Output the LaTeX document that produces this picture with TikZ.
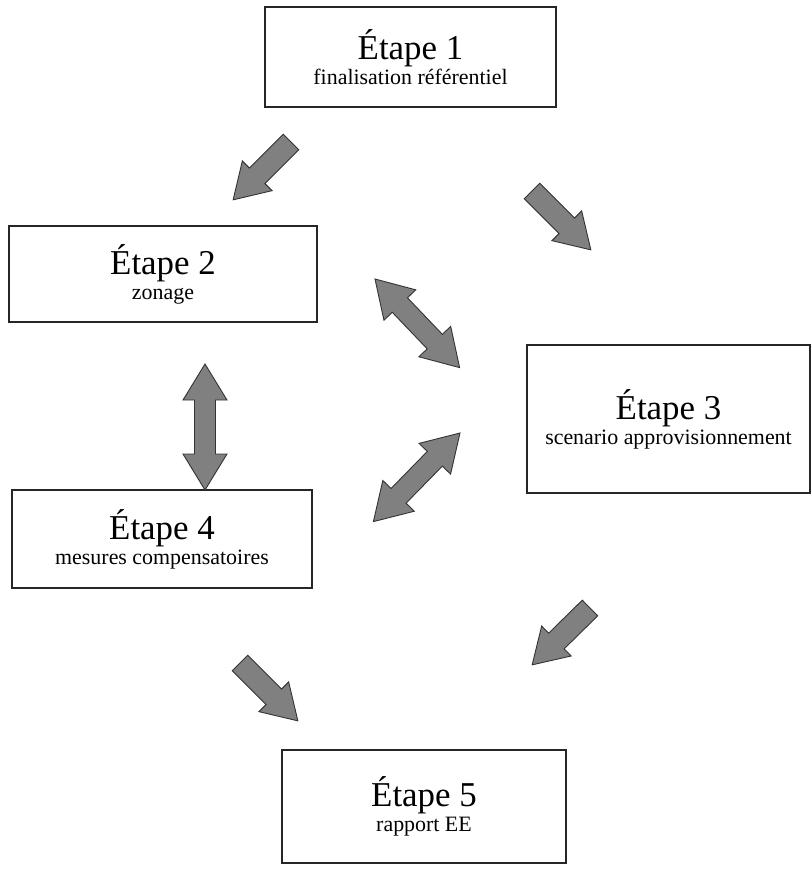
\documentclass[tikz,border=0pt]{standalone}
\usepackage{fontspec}
\setmainfont{Liberation Serif}
\usetikzlibrary{calc}

% block arrows between two named coordinates
\newcommand{\singlearrow}[2]{%
  \path[blockarrow] let \p1=($(#2)-(#1)$), \n1={atan2(\y1,\x1)}, \n2={veclen(\x1,\y1)} in
    [shift={(#1)},rotate=\n1] (0bp,11bp) -- (\n2-34bp,11bp) -- (\n2-34bp,21bp) -- (\n2,0bp)
    -- (\n2-34bp,-21bp) -- (\n2-34bp,-11bp) -- (0bp,-11bp) -- cycle;}
\newcommand{\doublearrow}[2]{%
  \path[blockarrow] let \p1=($(#2)-(#1)$), \n1={atan2(\y1,\x1)}, \n2={veclen(\x1,\y1)} in
    [shift={(#1)},rotate=\n1] (0bp,0bp) -- (36bp,22bp) -- (36bp,10.5bp) -- (\n2-36bp,10.5bp)
    -- (\n2-36bp,22bp) -- (\n2,0bp) -- (\n2-36bp,-22bp) -- (\n2-36bp,-10.5bp)
    -- (36bp,-10.5bp) -- (36bp,-22bp) -- cycle;}

\begin{document}
\begin{tikzpicture}[x=1bp,y=-1bp,
    stepbox/.style={rectangle,draw=black!85,line width=1.3bp,inner sep=0pt,align=center,
      font=\fontsize{22}{25}\selectfont},
    blockarrow/.style={draw=black!80,line width=0.9bp,fill=black!50,line join=miter}
]
\newcommand{\steptitle}[1]{{\fontsize{35}{35}\selectfont #1}}
\useasboundingbox (0,0) rectangle (812,870);

% === Steps ===
\node[stepbox,minimum width=291bp,minimum height=100bp] (etape1) at (410.5,57)
  {\steptitle{Étape 1}\\finalisation référentiel};
\node[stepbox,minimum width=308bp,minimum height=96bp] (etape2) at (163,274)
  {\steptitle{Étape 2}\\zonage};
\node[stepbox,minimum width=283bp,minimum height=148bp] (etape3) at (668.5,419)
  {\steptitle{Étape 3}\\scenario approvisionnement};
\node[stepbox,minimum width=300bp,minimum height=98bp] (etape4) at (162,539)
  {\steptitle{Étape 4}\\mesures compensatoires};
\node[stepbox,minimum width=284bp,minimum height=113bp] (etape5) at (424,806.5)
  {\steptitle{Étape 5}\\rapport EE};

% === Arrow ends ===
\coordinate (a1s) at (291,142); \coordinate (a1e) at (233,200);
\coordinate (a2s) at (532,191); \coordinate (a2e) at (591,250);
\coordinate (a3s) at (375,279); \coordinate (a3e) at (460,368);
\coordinate (a4s) at (205,364); \coordinate (a4e) at (205,490);
\coordinate (a5s) at (460,433); \coordinate (a5e) at (373,522);
\coordinate (a6s) at (590,608); \coordinate (a6e) at (532,665);
\coordinate (a7s) at (240,663); \coordinate (a7e) at (298,721);

% === Arrows ===
\singlearrow{a1s}{a1e}
\singlearrow{a2s}{a2e}
\doublearrow{a3s}{a3e}
\doublearrow{a4s}{a4e}
\doublearrow{a5s}{a5e}
\singlearrow{a6s}{a6e}
\singlearrow{a7s}{a7e}

\end{tikzpicture}
\end{document}
